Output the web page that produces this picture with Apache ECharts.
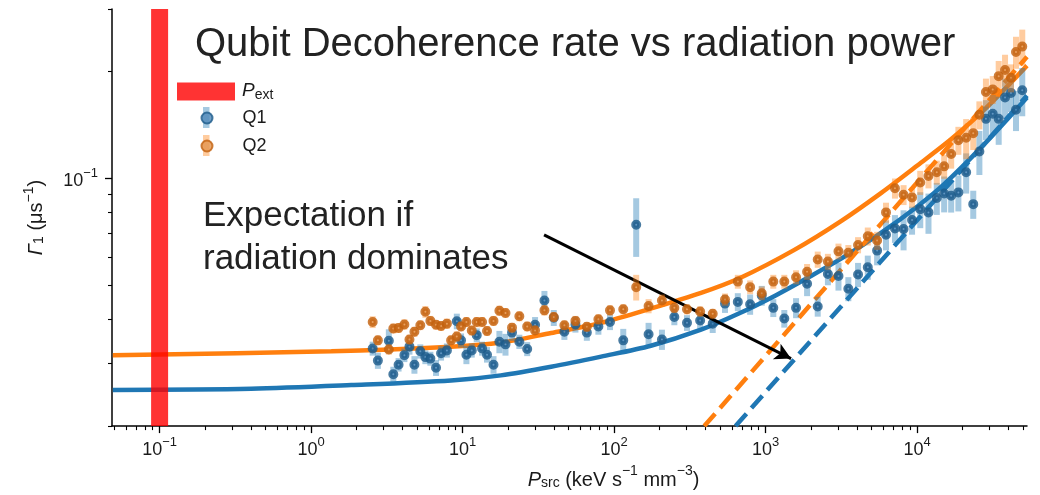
<!DOCTYPE html>
<html><head><meta charset="utf-8">
<script src="https://cdn.jsdelivr.net/npm/echarts@6/dist/echarts.min.js"></script>
<style>html,body{margin:0;padding:0;background:#fff}#c{width:1040px;height:495px}</style>
</head><body><div id="c"></div>
<script>
// ---------- data ----------
const psrc = [2.55, 2.76, 3.26, 3.49, 3.78, 4.13, 4.46, 4.81, 5.26, 5.68,
  6.13, 6.68, 7.21, 7.88, 8.40, 9.16, 9.77, 10.6, 11.5, 12.4,
  13.45, 14.5, 16.0, 17.5, 19.2, 21.2, 23.7, 26.7, 30.1, 34.7,
  40.0, 47.0, 55.6, 66.1, 78.8, 94.0, 115, 140, 169, 207,
  250, 303, 370, 448, 540, 656, 791, 944, 1125, 1330,
  1590, 1880, 2210, 2580, 3030, 3520, 4080, 4730, 5450, 6240,
  7150, 8150, 9270, 10500, 11900, 13500, 15100, 16800, 18750, 21100,
  23500, 25800, 28500, 31600, 34600, 38100, 41700, 45000, 49500];
const gammaQ1 = [0.0331, 0.0306, 0.0348, 0.0280, 0.0298, 0.0317, 0.0335, 0.0298, 0.0325, 0.0313,
  0.0310, 0.0292, 0.0321, 0.0327, null, 0.0395, 0.0349, 0.0318, 0.0327, 0.0361,
  0.0331, 0.0318, 0.0298, 0.0346, 0.0340, 0.0367, 0.0346, 0.0330, 0.0386, 0.0452,
  0.0404, 0.0369, 0.0387, 0.0367, 0.0382, 0.0393, 0.0349, 0.0739, 0.0363, 0.0351,
  0.0406, 0.0391, 0.0397, 0.0389, 0.0443, 0.0448, 0.0441, 0.0467, 0.0431, 0.0402,
  0.0431, 0.0504, 0.0435, 0.0537, 0.0530, 0.0488, 0.0535, 0.0561, 0.0625, 0.0693,
  0.0722, 0.0719, 0.0762, 0.0818, 0.0801, 0.0879, 0.0906, 0.0892, 0.0912, 0.104,
  0.0845, 0.119, 0.147, 0.152, 0.147, 0.169, 0.174, 0.156, 0.177];
const errQ1 = [0.0015, 0.0016, 0.0027, 0.0014, 0.0013, 0.0014, 0.0017, 0.0017, 0.0015, 0.0014,
  0.0014, 0.0015, 0.0015, 0.0015, null, 0.0020, 0.0016, 0.0019, 0.0015, 0.0016,
  0.0015, 0.0016, 0.0017, 0.0025, 0.0024, 0.0019, 0.0016, 0.0015, 0.0020, 0.0029,
  0.0021, 0.0019, 0.0020, 0.0019, 0.0020, 0.0020, 0.0027, 0.0139, 0.0028, 0.0023,
  0.0021, 0.0020, 0.0021, 0.0023, 0.0026, 0.0026, 0.0029, 0.0030, 0.0025, 0.0023,
  0.0028, 0.0039, 0.0028, 0.0038, 0.0048, 0.0038, 0.0042, 0.0044, 0.0057, 0.0067,
  0.0065, 0.0093, 0.0069, 0.0095, 0.0104, 0.0091, 0.0105, 0.0092, 0.0106, 0.0135,
  0.0077, 0.0169, 0.0190, 0.0197, 0.0228, 0.0219, 0.0203, 0.0202, 0.0275];
const gammaQ2 = [0.0393, 0.0349, 0.0329, 0.0377, 0.0378, 0.0387, 0.0351, 0.0369, 0.0385, 0.0420,
  0.0396, 0.0386, 0.0383, 0.0389, 0.0349, 0.0358, 0.0382, 0.0393, 0.0372, 0.0393,
  0.0393, 0.0371, 0.0396, 0.0423, 0.0417, 0.0379, 0.0408, 0.0382, 0.0372, 0.0424,
  0.0406, 0.0385, 0.0396, 0.0381, 0.0400, 0.0424, 0.0427, 0.0493, 0.0436, 0.0452,
  0.0431, 0.0427, 0.0421, 0.0415, 0.0455, 0.0511, 0.0493, 0.0474, 0.0511, 0.0511,
  0.0526, 0.0545, 0.0590, 0.0582, 0.0622, 0.0616, 0.0648, 0.0686, 0.0667, 0.0801,
  0.0937, 0.0898, 0.0883, 0.0973, 0.1015, 0.104, 0.108, 0.117, 0.128, 0.130,
  0.134, 0.151, 0.175, 0.178, 0.194, 0.202, 0.192, 0.227, 0.235];
const errQ2 = [0.0015, 0.0011, 0.0011, 0.0012, 0.0012, 0.0013, 0.0011, 0.0012, 0.0012, 0.0016,
  0.0013, 0.0012, 0.0012, 0.0013, 0.0011, 0.0012, 0.0012, 0.0013, 0.0012, 0.0013,
  0.0013, 0.0012, 0.0013, 0.0014, 0.0013, 0.0012, 0.0013, 0.0012, 0.0012, 0.0014,
  0.0013, 0.0012, 0.0013, 0.0012, 0.0013, 0.0014, 0.0014, 0.0041, 0.0020, 0.0018,
  0.0014, 0.0014, 0.0014, 0.0013, 0.0018, 0.0023, 0.0022, 0.0021, 0.0023, 0.0023,
  0.0024, 0.0028, 0.0031, 0.0030, 0.0032, 0.0032, 0.0034, 0.0040, 0.0039, 0.0052,
  0.0061, 0.0058, 0.0057, 0.0076, 0.0079, 0.0081, 0.0084, 0.0106, 0.0116, 0.0168,
  0.0139, 0.0137, 0.0159, 0.0161, 0.0201, 0.0209, 0.0174, 0.0235, 0.0274];
// model curves
const fitQ1P = [0.0491, 0.402, 1.84, 8.40, 17.9, 38.4, 82.1, 175, 375, 689, 1173, 1900, 3300, 5780, 10100, 15100, 27700, 53200];
const fitQ1G = [0.0253, 0.0255, 0.0261, 0.0269, 0.0278, 0.0294, 0.0314, 0.0337, 0.0374, 0.0418, 0.0468, 0.0524, 0.0600, 0.0701, 0.0834, 0.0962, 0.1246, 0.169];
const fitQ2P = [0.0491, 1.36, 8.40, 17.9, 38.4, 82.1, 175, 375, 689, 1550, 3150, 5780, 10100, 16760, 27800, 53200];
const fitQ2G = [0.0317, 0.0325, 0.0335, 0.0344, 0.0366, 0.0391, 0.0429, 0.0475, 0.0525, 0.0628, 0.0757, 0.0908, 0.1088, 0.1287, 0.156, 0.2077];
// radiation-only expectation (dashed)
const radQ1P = [634, 53200];
const radQ1G = [0.02, 0.171];
const radQ2P = [394, 53200];
const radQ2G = [0.02, 0.220];
const pExt = 0.1;
const arrowFrom = [34.5, 0.0692];
const arrowTo = [1473, 0.0310];
// axes
const xRange = [0.0485, 53200];
const yRange = [0.02, 0.3];
const xTicksMajor = [0.1, 1, 10, 100, 1000, 10000];
const xTicksMinor = [0.05, 0.06, 0.07, 0.08, 0.09, 0.2, 0.3, 0.4, 0.5, 0.6, 0.7, 0.8, 0.9,
  2, 3, 4, 5, 6, 7, 8, 9, 20, 30, 40, 50, 60, 70, 80, 90, 200, 300, 400, 500, 600, 700, 800, 900,
  2000, 3000, 4000, 5000, 6000, 7000, 8000, 9000, 20000, 30000, 40000, 50000];
const yTicksMajor = [0.1];
const yTicksMinor = [0.02, 0.03, 0.04, 0.05, 0.06, 0.07, 0.08, 0.09, 0.2, 0.3];

// ---------- chart ----------
const FONT = 'Liberation Sans, Arial, Helvetica, sans-serif';
const TXT = '#1a1a1a';
const zip = (a, b) => a.map((v, i) => [v, b[i]]);
const withErr = (g, e) => psrc.map((p, i) => [p, g[i], e[i]]).filter(d => d[1] != null);
const expLabel = v => {
  const n = Math.round(Math.log10(v));
  return '{b|10}{s|' + (n < 0 ? '\u2212' + (-n) : n) + '}';
};
const labelRich = {
  b: {fontSize: 18, lineHeight: 23, fontFamily: FONT, color: TXT, verticalAlign: 'bottom'},
  s: {fontSize: 13, lineHeight: 11, fontFamily: FONT, color: TXT, verticalAlign: 'top'}
};
const nameRich = {
  i: {fontSize: 20, fontStyle: 'italic', lineHeight: 26, fontFamily: FONT, color: TXT, verticalAlign: 'bottom'},
  n: {fontSize: 20, lineHeight: 26, fontFamily: FONT, color: TXT, verticalAlign: 'bottom'},
  sub: {fontSize: 14, lineHeight: 14, fontFamily: FONT, color: TXT, verticalAlign: 'bottom'},
  sup: {fontSize: 14, lineHeight: 14, fontFamily: FONT, color: TXT, verticalAlign: 'top'}
};
const axisBase = {type: 'log', logBase: 10, splitLine: {show: false}, minorTick: {show: false}};
const errBar = color => (params, api) => {
  const x = api.value(0), y = api.value(1), e = api.value(2);
  const t = api.coord([x, y + e]);
  const b = api.coord([x, y - e]);
  return {type: 'rect', shape: {x: t[0] - 3, y: t[1], width: 6, height: b[1] - t[1]},
    style: {fill: color}};
};

const chart = echarts.init(document.getElementById('c'), null, {renderer: 'canvas'});
chart.setOption({
  animation: false,
  backgroundColor: '#ffffff',
  title: {
    text: 'Qubit Decoherence rate vs radiation power',
    left: 190, top: 20,
    textStyle: {fontSize: 40, fontWeight: 'normal', color: '#222', fontFamily: FONT}
  },
  graphic: [
    {type: 'text', left: 203, top: 195, z: 20,
      style: {text: 'Expectation if\nradiation dominates', font: '35px ' + FONT, lineHeight: 43, fill: '#222'}},
    {type: 'rect', left: 203, top: 107, z: 1, shape: {width: 6.5, height: 21}, style: {fill: 'rgba(31,119,180,0.4)'}},
    {type: 'rect', left: 203, top: 135, z: 1, shape: {width: 6.5, height: 21}, style: {fill: 'rgba(255,127,14,0.4)'}}
  ],
  legend: [
    {data: ['P_ext'], left: 177, top: 81, padding: 0, itemWidth: 58, itemHeight: 18, icon: 'rect',
      selectedMode: false, formatter: () => '{i|P}{sub|ext}',
      textStyle: {padding: [0, 0, 0, 2], rich: {
        i: {fontSize: 19, fontStyle: 'italic', lineHeight: 21, fontFamily: FONT, color: TXT, verticalAlign: 'top'},
        sub: {fontSize: 14, lineHeight: 14, fontFamily: FONT, color: TXT, verticalAlign: 'bottom'}}}},
    {data: ['Q1', 'Q2'], orient: 'vertical', left: 200.5, top: 108, padding: 0, itemWidth: 11, itemHeight: 11,
      itemGap: 8, icon: 'circle', selectedMode: false,
      textStyle: {fontSize: 18, color: TXT, fontFamily: FONT, lineHeight: 20, padding: [0, 0, 0, 25]}}
  ],
  grid: {left: 112, right: 13, top: 9, bottom: 68, containLabel: false},
  xAxis: [
    Object.assign({}, axisBase, {
      gridIndex: 0, min: xRange[0], max: xRange[1], position: 'bottom',
      axisLine: {show: true, onZero: false, lineStyle: {color: '#000', width: 1.5}},
      axisTick: {show: true, length: 7, customValues: xTicksMajor, lineStyle: {color: '#000', width: 1.3}},
      axisLabel: {show: true, margin: 10, customValues: xTicksMajor, formatter: expLabel, rich: labelRich},
      name: '{i|P}{sub|src}{n| (keV s}{sup|\u22121}{n| mm}{sup|\u22123}{n|)}',
      nameLocation: 'middle', nameGap: 34,
      nameTextStyle: {rich: nameRich, padding: [0, 0, 0, 88]}
    }),
    Object.assign({}, axisBase, {
      gridIndex: 0, min: xRange[0], max: xRange[1], position: 'bottom',
      axisLine: {show: false, onZero: false},
      axisTick: {show: true, length: 4, customValues: xTicksMinor, lineStyle: {color: '#000', width: 1.1}},
      axisLabel: {show: false}
    })
  ],
  yAxis: [
    Object.assign({}, axisBase, {
      gridIndex: 0, min: yRange[0], max: yRange[1], position: 'left',
      axisLine: {show: true, onZero: false, lineStyle: {color: '#000', width: 1.5}},
      axisTick: {show: true, length: 7, customValues: yTicksMajor, lineStyle: {color: '#000', width: 1.3}},
      axisLabel: {show: true, margin: 14, customValues: yTicksMajor, formatter: expLabel, rich: labelRich},
      name: '{i|\u0393}{sub|1}{n| (\u03bcs}{sup|\u22121}{n|)}',
      nameLocation: 'middle', nameGap: 66, nameRotate: 90,
      nameTextStyle: {rich: {
        i: {fontSize: 20, fontStyle: 'italic', lineHeight: 24, fontFamily: FONT, color: TXT, verticalAlign: 'bottom'},
        n: {fontSize: 20, lineHeight: 24, fontFamily: FONT, color: TXT, verticalAlign: 'bottom'},
        sub: {fontSize: 14, lineHeight: 13, fontFamily: FONT, color: TXT, verticalAlign: 'bottom'},
        sup: {fontSize: 14, lineHeight: 13, fontFamily: FONT, color: TXT, verticalAlign: 'top'}}}
    }),
    Object.assign({}, axisBase, {
      gridIndex: 0, min: yRange[0], max: yRange[1], position: 'left',
      axisLine: {show: false, onZero: false},
      axisTick: {show: true, length: 4, customValues: yTicksMinor, lineStyle: {color: '#000', width: 1.1}},
      axisLabel: {show: false}
    })
  ],
  series: [
    {name: 'Q1 fit', type: 'line', data: zip(fitQ1P, fitQ1G), smooth: 0.3,
      showSymbol: false, lineStyle: {color: '#1f77b4', width: 4.5}, z: 2, silent: true},
    {name: 'Q2 fit', type: 'line', data: zip(fitQ2P, fitQ2G), smooth: 0.3,
      showSymbol: false, lineStyle: {color: '#ff7f0e', width: 4.5}, z: 2, silent: true},
    {name: 'Q1 rad', type: 'line', data: zip(radQ1P, radQ1G), showSymbol: false,
      lineStyle: {color: '#1f77b4', width: 4.5, type: [16.5, 7.5]}, z: 2, silent: true},
    {name: 'Q2 rad', type: 'line', data: zip(radQ2P, radQ2G), showSymbol: false,
      lineStyle: {color: '#ff7f0e', width: 4.5, type: [16.5, 7.5]}, z: 2, silent: true},
    {name: 'Q1 err', type: 'custom', data: withErr(gammaQ1, errQ1), renderItem: errBar('rgba(31,119,180,0.4)'),
      encode: {x: 0, y: 1}, z: 3, silent: true, clip: true},
    {name: 'Q1', type: 'scatter', data: zip(psrc, gammaQ1).filter(d => d[1] != null), symbol: 'circle', symbolSize: 6,
      itemStyle: {color: '#4f88b9', borderColor: '#1c5a8a', borderWidth: 4}, z: 4},
    {name: 'Q2 err', type: 'custom', data: withErr(gammaQ2, errQ2), renderItem: errBar('rgba(255,127,14,0.4)'),
      encode: {x: 0, y: 1}, z: 5, silent: true, clip: true},
    {name: 'Q2', type: 'scatter', data: zip(psrc, gammaQ2), symbol: 'circle', symbolSize: 6,
      itemStyle: {color: '#e3954f', borderColor: '#c2600e', borderWidth: 4}, z: 6},
    {name: 'P_ext', type: 'line', data: [[pExt, yRange[0]], [pExt, yRange[1]]], showSymbol: false,
      lineStyle: {color: 'rgba(255,0,0,0.8)', width: 17, cap: 'butt'}, itemStyle: {color: 'rgba(255,0,0,0.8)'}, z: 8, silent: true},
    {name: 'arrow', type: 'line', data: [arrowFrom, arrowTo], showSymbol: false, lineStyle: {opacity: 0}, z: 9, silent: true,
      markLine: {silent: true, symbol: ['none', 'arrow'], symbolSize: [13, 16], animation: false,
        lineStyle: {color: '#000', width: 3, type: 'solid'}, label: {show: false},
        data: [[{coord: arrowFrom}, {coord: arrowTo}]]}}
  ]
});
</script></body></html>
